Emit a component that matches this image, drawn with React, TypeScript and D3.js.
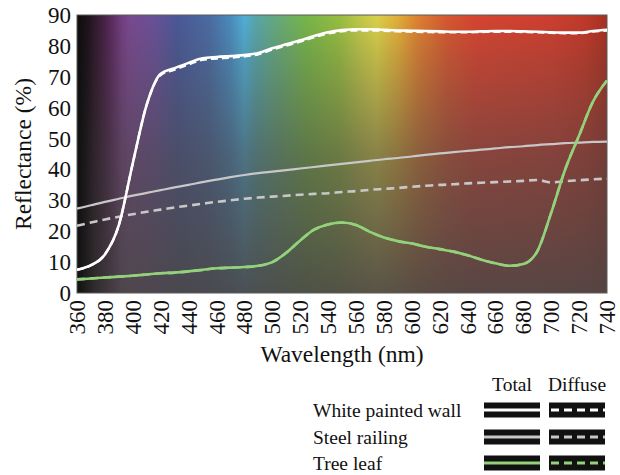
import React from 'react';
import * as d3 from 'd3';

const wavelengths = [360, 370, 380, 390, 400, 410, 420, 430, 440, 450, 460, 470, 480, 490, 500, 510, 520, 530, 540, 550, 560, 570, 580, 590, 600, 610, 620, 630, 640, 650, 660, 670, 680, 690, 700, 710, 720, 730, 740];

const whiteTotal = [7.5, 9, 12.5, 22, 42, 61, 71, 72.8, 74.5, 76, 76.4, 76.7, 77, 77.7, 79.2, 80.5, 81.8, 83.2, 84.4, 85.1, 85.4, 85.4, 85.2, 85, 84.9, 84.8, 84.7, 84.6, 84.6, 84.7, 84.8, 84.8, 84.7, 84.6, 84.4, 84.3, 84.3, 84.8, 85.2];
const whiteDiffuse = [7.5, 9, 12.5, 22, 42, 61, 70.6, 72.3, 74, 75.5, 75.9, 76.2, 76.6, 77.3, 78.8, 80.1, 81.4, 82.8, 84, 84.7, 85, 85, 84.9, 84.7, 84.6, 84.5, 84.4, 84.4, 84.4, 84.5, 84.6, 84.6, 84.5, 84.4, 84.2, 84.1, 84.1, 84.6, 85];
const steelTotal = [27.3, 28.4, 29.5, 30.5, 31.5, 32.4, 33.3, 34.2, 35, 35.9, 36.7, 37.5, 38.2, 38.8, 39.3, 39.8, 40.3, 40.8, 41.3, 41.8, 42.3, 42.8, 43.3, 43.7, 44.2, 44.7, 45.2, 45.6, 46, 46.4, 46.8, 47.2, 47.5, 47.9, 48.2, 48.5, 48.7, 48.9, 49];
const steelDiffuse = [21.8, 22.8, 23.8, 24.7, 25.5, 26.3, 27, 27.7, 28.3, 28.9, 29.5, 30, 30.5, 30.9, 31.2, 31.5, 31.8, 32.1, 32.3, 32.7, 33, 33.4, 33.7, 34, 34.4, 34.7, 35, 35.2, 35.5, 35.7, 35.9, 36.1, 36.3, 36.6, 35.8, 36.2, 36.5, 36.8, 37];
const leafTotal = [4.4, 4.7, 5, 5.3, 5.6, 6, 6.4, 6.6, 7, 7.5, 8, 8.2, 8.4, 8.8, 10, 13, 17, 20.5, 22.2, 22.8, 22, 19.8, 18, 16.8, 16, 15, 14.2, 13.4, 12.2, 10.8, 9.6, 8.8, 9.4, 13.5, 26, 40, 51, 62, 68.8];
const leafDiffuse = [4.4, 4.7, 5, 5.3, 5.6, 6, 6.4, 6.6, 7, 7.5, 8, 8.2, 8.4, 8.8, 10, 13, 17, 20.5, 22.2, 22.8, 22, 19.8, 18, 16.8, 16, 15, 14.2, 13.4, 12.2, 10.8, 9.6, 8.8, 9.4, 13.5, 26, 40, 51, 62, 68.8];

const yTicks = [0, 10, 20, 30, 40, 50, 60, 70, 80, 90];
const xTicks = [360, 380, 400, 420, 440, 460, 480, 500, 520, 540, 560, 580, 600, 620, 640, 660, 680, 700, 720, 740];

const legendNames = ['White painted wall', 'Steel railing', 'Tree leaf'];
const legendColors = ['#ffffff', '#c8c8c8', '#93d27a'];

const spectrumStops: [number, string][] = [
  [360, '#161218'], [372, '#4a2040'], [385, '#6a3070'], [398, '#7a4890'], [415, '#6a5098'],
  [432, '#4a5898'], [455, '#4a6ca4'], [470, '#4a8cc0'], [480, '#50b0d8'], [489, '#58a8a8'],
  [505, '#68ac78'], [525, '#78b848'], [548, '#98c040'], [565, '#c8cc48'], [575, '#dcd448'],
  [590, '#e4b038'], [605, '#e08030'], [625, '#d85830'], [645, '#d84430'], [700, '#d03e2e'],
  [725, '#c23828'], [740, '#a83020'],
];

const FONT = '"Liberation Serif", "Times New Roman", serif';

export default function App() {
  const left = 77, right = 607, top = 15, bottom = 293;
  const x = d3.scaleLinear().domain([360, 740]).range([left, right]);
  const y = d3.scaleLinear().domain([0, 90]).range([bottom, top]);
  const line = (vals: number[]) =>
    d3.line<number>().x((_, i) => x(wavelengths[i])).y((d) => y(d)).curve(d3.curveMonotoneX)(vals) || '';
  const off = (wl: number) => `${((wl - 360) / 380) * 100}%`;

  const rowY = [410, 437, 463];
  const totalX = 484, diffX = 549, swW = 56, swH = 15;

  return (
    <svg width={620} height={475} style={{ position: 'absolute', left: 0, top: 0 }} fontFamily={FONT}>
      <defs>
        <linearGradient id="spec" x1="0" x2="1" y1="0" y2="0">
          {spectrumStops.map(([w, c]) => (
            <stop key={w} offset={off(w)} stopColor={c} />
          ))}
        </linearGradient>
        <linearGradient id="shade" x1="0" x2="0" y1="0" y2="1">
          <stop offset="0%" stopColor="#4a4646" stopOpacity={0.02} />
          <stop offset="15%" stopColor="#4a4646" stopOpacity={0.2} />
          <stop offset="50%" stopColor="#4a4646" stopOpacity={0.57} />
          <stop offset="100%" stopColor="#4a4646" stopOpacity={0.9} />
        </linearGradient>
        <linearGradient id="blk" x1="0" x2="1" y1="0" y2="0">
          <stop offset={off(360)} stopColor="#0e0e0e" stopOpacity={0.95} />
          <stop offset={off(372)} stopColor="#0e0e0e" stopOpacity={0.45} />
          <stop offset={off(392)} stopColor="#0e0e0e" stopOpacity={0} />
        </linearGradient>
      </defs>
      <rect x={left} y={top} width={right - left} height={bottom - top} fill="url(#spec)" />
      <rect x={left} y={top} width={right - left} height={bottom - top} fill="url(#shade)" />
      <rect x={left} y={top} width={right - left} height={bottom - top} fill="url(#blk)" />
      <rect x={left} y={top} width={right - left} height={bottom - top} fill="none" stroke="#5a5a5a" strokeWidth={1} />

      <path d={line(steelTotal)} fill="none" stroke="#c8c8c8" strokeWidth={2.2} />
      <path d={line(steelDiffuse)} fill="none" stroke="#c8c8c8" strokeWidth={2.6} strokeDasharray="8,5" />
      <path d={line(leafDiffuse)} fill="none" stroke="#93d27a" strokeWidth={2.6} strokeDasharray="8,5" />
      <path d={line(leafTotal)} fill="none" stroke="#93d27a" strokeWidth={2.6} />
      <path d={line(whiteDiffuse)} fill="none" stroke="#ffffff" strokeWidth={2.4} strokeDasharray="7,4" />
      <path d={line(whiteTotal)} fill="none" stroke="#ffffff" strokeWidth={2.6} />

      {yTicks.map((t) => (
        <text key={t} x={71} y={y(t)} dy="0.35em" textAnchor="end" fontSize={23} fill="#111">
          {t}
        </text>
      ))}
      {xTicks.map((t) => (
        <text
          key={t}
          transform={`translate(${x(t)},${bottom + 7}) rotate(-90)`}
          dy="0.35em"
          textAnchor="end"
          fontSize={23}
          fill="#111"
        >
          {t}
        </text>
      ))}
      <text transform={`translate(31,${(top + bottom) / 2}) rotate(-90)`} textAnchor="middle" fontSize={23.5} fill="#111">
        Reflectance (%)
      </text>
      <text x={(left + right) / 2} y={362} textAnchor="middle" fontSize={23.5} fill="#111">
        Wavelength (nm)
      </text>

      <text x={totalX + swW / 2} y={391} textAnchor="middle" fontSize={19.5} fill="#111">Total</text>
      <text x={diffX + swW / 2} y={391} textAnchor="middle" fontSize={19.5} fill="#111">Diffuse</text>
      {legendNames.map((n, i) => (
        <g key={n}>
          <text x={313} y={rowY[i]} dy="0.35em" fontSize={19.5} fill="#111">{n}</text>
          <rect x={totalX} y={rowY[i] - swH / 2} width={swW} height={swH} fill="#111" />
          <line x1={totalX} x2={totalX + swW} y1={rowY[i]} y2={rowY[i]} stroke={legendColors[i]} strokeWidth={3} />
          <rect x={diffX} y={rowY[i] - swH / 2} width={swW} height={swH} fill="#111" />
          <line x1={diffX + 2} x2={diffX + swW} y1={rowY[i]} y2={rowY[i]} stroke={legendColors[i]} strokeWidth={3} strokeDasharray="8,5" />
        </g>
      ))}
    </svg>
  );
}
